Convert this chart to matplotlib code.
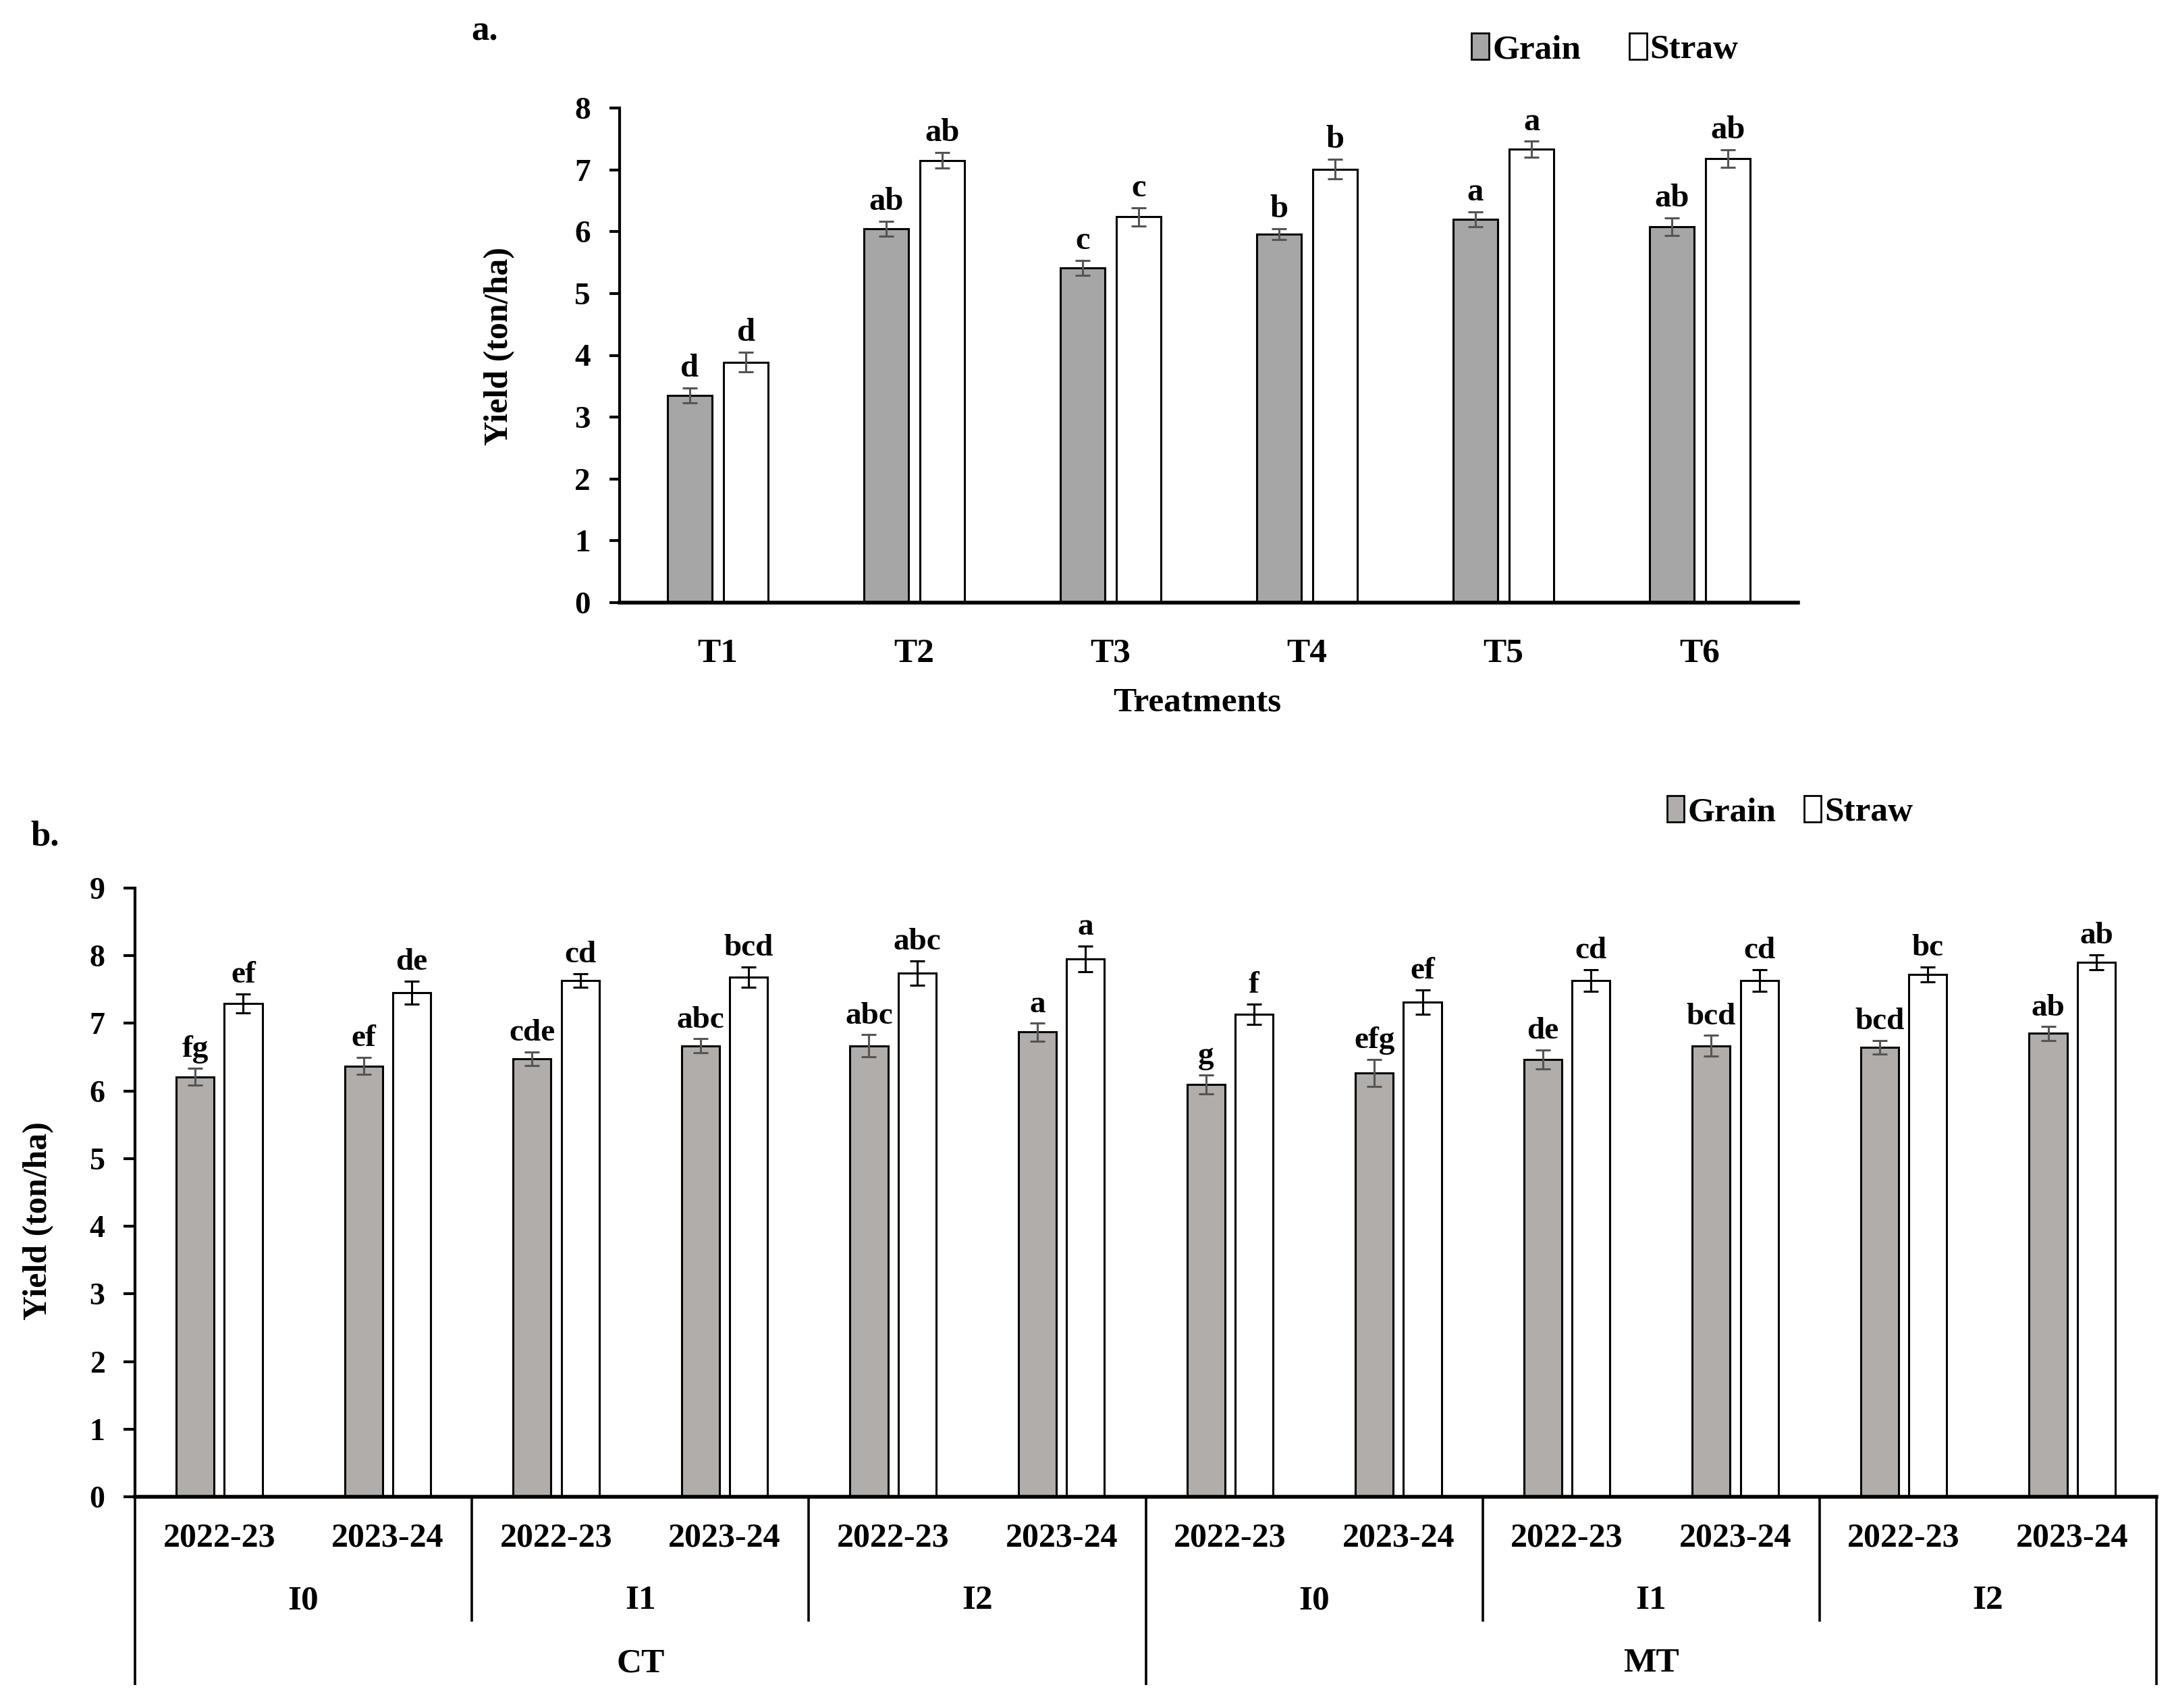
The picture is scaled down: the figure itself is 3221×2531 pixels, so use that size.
import numpy as np
import matplotlib.pyplot as plt
import matplotlib.transforms as mtransforms
from matplotlib.patches import Patch

plt.rcParams['font.family'] = ['Liberation Serif', 'DejaVu Serif']
plt.rcParams['font.weight'] = 'bold'

# ---- panel a data ----
treatments = ['T1', 'T2', 'T3', 'T4', 'T5', 'T6']
grain_a = [3.35, 6.05, 5.41, 5.96, 6.20, 6.08]
grain_a_err = [0.12, 0.12, 0.12, 0.09, 0.12, 0.14]
straw_a = [3.89, 7.15, 6.24, 7.01, 7.33, 7.18]
straw_a_err = [0.155, 0.125, 0.15, 0.16, 0.13, 0.14]
grain_a_let = ['d', 'ab', 'c', 'b', 'a', 'ab']
straw_a_let = ['d', 'ab', 'c', 'b', 'a', 'ab']

# ---- panel b data ----
seasons = ['2022-23', '2023-24'] * 6
irrigation = ['I0', 'I1', 'I2', 'I0', 'I1', 'I2']
tillage = ['CT', 'MT']
grain_b = [6.21, 6.37, 6.48, 6.67, 6.67, 6.87, 6.10, 6.27, 6.47, 6.67, 6.65, 6.85]
grain_b_err = [0.125, 0.125, 0.10, 0.10, 0.16, 0.13, 0.14, 0.20, 0.14, 0.15, 0.10, 0.10]
straw_b = [7.29, 7.45, 7.63, 7.68, 7.74, 7.95, 7.13, 7.31, 7.63, 7.63, 7.72, 7.90]
straw_b_err = [0.14, 0.17, 0.10, 0.15, 0.18, 0.19, 0.15, 0.18, 0.16, 0.16, 0.11, 0.11]
grain_b_let = ['fg', 'ef', 'cde', 'abc', 'abc', 'a', 'g', 'efg', 'de', 'bcd', 'bcd', 'ab']
straw_b_let = ['ef', 'de', 'cd', 'bcd', 'abc', 'a', 'f', 'ef', 'cd', 'cd', 'bc', 'ab']

W, H = 3221, 2531
fig = plt.figure(figsize=(W / 100, H / 100), dpi=100)


def frac(x0, y0, x1, y1):
    # pixel box (top-left origin) -> figure fractions
    return [x0 / W, 1 - y1 / H, (x1 - x0) / W, (y1 - y0) / H]


bw = 0.225
off = 0.143


def draw_bars(ax, grain, gerr, straw, serr, glet, slet, gcol, serr_col, fs):
    x = np.arange(len(grain))
    ax.bar(x - off, grain, bw, color=gcol, edgecolor='black', linewidth=2.2,
           yerr=gerr, error_kw=dict(ecolor='#555555', elinewidth=2.2, capsize=8, capthick=2.2))
    ax.bar(x + off, straw, bw, color='white', edgecolor='black', linewidth=2.2,
           yerr=serr, error_kw=dict(ecolor=serr_col, elinewidth=2.2, capsize=8, capthick=2.2))
    for i in range(len(grain)):
        ax.annotate(glet[i], (x[i] - off, grain[i] + gerr[i]), xytext=(0, 5),
                    textcoords='offset points', ha='center', va='bottom',
                    fontsize=fs, fontweight='bold')
        ax.annotate(slet[i], (x[i] + off, straw[i] + serr[i]), xytext=(0, 5),
                    textcoords='offset points', ha='center', va='bottom',
                    fontsize=fs, fontweight='bold')
    for s in ['top', 'right']:
        ax.spines[s].set_visible(False)
    ax.spines['left'].set_linewidth(3)
    ax.spines['bottom'].set_linewidth(4)


# ================= panel a =================
axa = fig.add_axes(frac(918, 160, 2664, 893))
draw_bars(axa, grain_a, grain_a_err, straw_a, straw_a_err, grain_a_let, straw_a_let,
          '#a6a6a6', '#555555', 35)
axa.set_xlim(-0.5, 5.5)
axa.set_ylim(0, 8)
axa.set_yticks(range(0, 9))
axa.tick_params(axis='y', labelsize=34, width=3, length=11, pad=20)
axa.set_xticks(range(6))
axa.set_xticklabels(treatments)
axa.tick_params(axis='x', labelsize=37, length=0, pad=38)
axa.text(0.49, -0.203, 'Treatments', transform=axa.transAxes, ha='center', va='center',
         fontsize=37, fontweight='bold')
fig.text(740 / W, 1 - 513 / H, 'Yield (ton/ha)', rotation=90, ha='center', va='center',
         fontsize=36, fontweight='bold')
fig.text(698 / W, 1 - 46 / H, 'a.', ha='left', va='center', fontsize=38, fontweight='bold')

leg_handles = [Patch(facecolor='#a6a6a6', edgecolor='black', linewidth=2, label='Grain'),
               Patch(facecolor='white', edgecolor='black', linewidth=2, label='Straw')]
fig.legend(handles=leg_handles, loc='center', bbox_to_anchor=(2378 / W, 1 - 73 / H),
           ncol=2, frameon=False, fontsize=37, handlelength=0.5, handleheight=0.8,
           handletextpad=0.1, columnspacing=1.4)

# ================= panel b =================
axb = fig.add_axes(frac(200, 1316, 3195, 2218))
draw_bars(axb, grain_b, grain_b_err, straw_b, straw_b_err, grain_b_let, straw_b_let,
          '#b1adaa', 'black', 34)
axb.set_xlim(-0.5, 11.5)
axb.set_ylim(0, 9)
axb.set_yticks(range(0, 10))
axb.tick_params(axis='y', labelsize=33, width=3, length=12, pad=20)
axb.set_xticks([])

trans = mtransforms.blended_transform_factory(axb.transData, axb.transAxes)
for i, s in enumerate(seasons):
    axb.text(i, -0.0687, s, transform=trans, ha='center', va='center',
             fontsize=36, fontweight='bold')
for j, lab in enumerate(irrigation):
    axb.text(2 * j + 0.5, -0.171, lab, transform=trans, ha='center', va='center',
             fontsize=37, fontweight='bold')
for k, lab in enumerate(tillage):
    axb.text(6 * k + 2.5, -0.274, lab, transform=trans, ha='center', va='center',
             fontsize=37, fontweight='bold')
for d in np.arange(-0.5, 12, 2):
    bottom = -0.309 if d in (-0.5, 5.5, 11.5) else -0.205
    axb.plot([d, d], [0, bottom], transform=trans, color='black', linewidth=2.6,
             clip_on=False, solid_capstyle='butt')

fig.text(57 / W, 1 - 1809 / H, 'Yield (ton/ha)', rotation=90, ha='center', va='center',
         fontsize=36, fontweight='bold')
fig.text(45 / W, 1 - 1239 / H, 'b.', ha='left', va='center', fontsize=38, fontweight='bold')

leg_handles_b = [Patch(facecolor='#b1adaa', edgecolor='black', linewidth=2, label='Grain'),
                 Patch(facecolor='white', edgecolor='black', linewidth=2, label='Straw')]
fig.legend(handles=leg_handles_b, loc='center', bbox_to_anchor=(2652 / W, 1 - 1203 / H),
           ncol=2, frameon=False, fontsize=37, handlelength=0.5, handleheight=0.8,
           handletextpad=0.1, columnspacing=0.8)

fig.savefig('out.png', dpi=100, facecolor='white')
